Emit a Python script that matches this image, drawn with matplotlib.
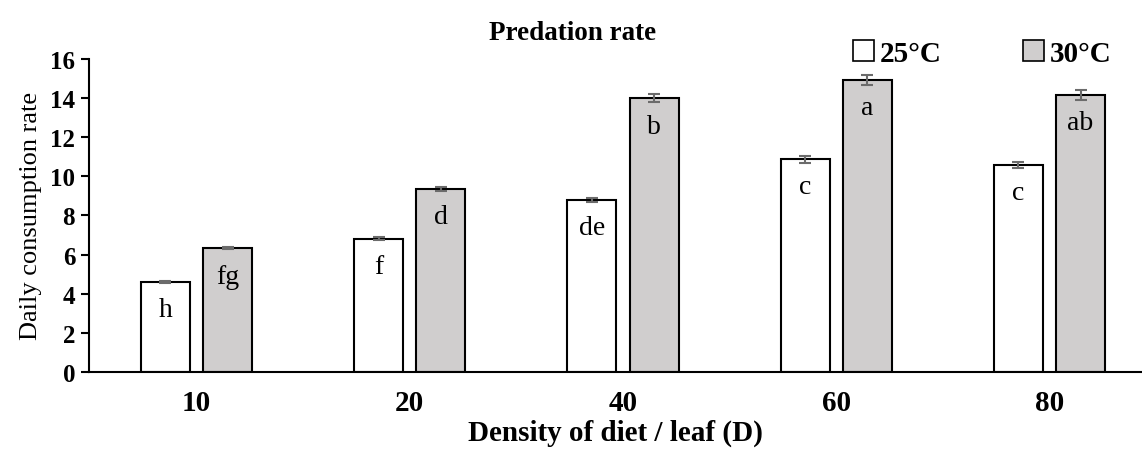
import numpy as np
import matplotlib.pyplot as plt
from matplotlib.patches import Patch

plt.rcParams['font.family'] = ['Liberation Serif', 'DejaVu Serif']

densities = ['10', '20', '40', '60', '80']
rate_25 = [4.62, 6.82, 8.78, 10.88, 10.58]
err_25 = [0.05, 0.06, 0.10, 0.18, 0.15]
rate_30 = [6.32, 9.35, 13.98, 14.92, 14.15]
err_30 = [0.05, 0.08, 0.20, 0.26, 0.24]
letters_25 = ['h', 'f', 'de', 'c', 'c']
letters_30 = ['fg', 'd', 'b', 'a', 'ab']

x = np.arange(len(densities))
w = 0.23
off = 0.146

fig = plt.figure(figsize=(11.42, 4.6), dpi=100)
ax = fig.add_axes([0.078, 0.189, 0.922, 0.681])

ax.bar(x - off, rate_25, w, color='white', edgecolor='black', linewidth=1.5, zorder=2)
ax.bar(x + off, rate_30, w, color='#d0cece', edgecolor='black', linewidth=1.5, zorder=2)
ax.errorbar(x - off, rate_25, yerr=err_25, fmt='none', ecolor='#6b6b6b',
            elinewidth=1.5, capsize=4.5, capthick=1.5, zorder=3)
ax.errorbar(x + off, rate_30, yerr=err_30, fmt='none', ecolor='#6b6b6b',
            elinewidth=1.5, capsize=4.5, capthick=1.5, zorder=3)

# letras de significancia dentro de las barras
for i in range(len(x)):
    ax.annotate(letters_25[i], (x[i] - off, rate_25[i]), xytext=(0, -11),
                textcoords='offset points', ha='center', va='top', fontsize=20)
    ax.annotate(letters_30[i], (x[i] + off, rate_30[i]), xytext=(0, -11),
                textcoords='offset points', ha='center', va='top', fontsize=20)

ax.set_xlim(-0.504, 4.434)
ax.set_ylim(0, 16)
ax.set_yticks(range(0, 17, 2))
ax.set_xticks(x)
ax.set_xticklabels(densities)
for lab in ax.get_yticklabels():
    lab.set_fontweight('bold')
    lab.set_fontsize(18)
for lab in ax.get_xticklabels():
    lab.set_fontweight('bold')
    lab.set_fontsize(21)
ax.tick_params(axis='x', length=0, pad=12)
ax.tick_params(axis='y', length=6, width=1.5, pad=4)
for s in ['top', 'right']:
    ax.spines[s].set_visible(False)
ax.spines['left'].set_linewidth(1.5)
ax.spines['bottom'].set_linewidth(1.5)

ax.set_xlabel('Density of diet / leaf (D)', fontsize=21, fontweight='bold', labelpad=2)
ax.set_ylabel('Daily consumption rate', fontsize=19, labelpad=6)
fig.text(0.501, 0.928, 'Predation rate', ha='center', va='center',
         fontsize=19.5, fontweight='bold')

handles = [Patch(facecolor='white', edgecolor='black', linewidth=1.2),
           Patch(facecolor='#d0cece', edgecolor='black', linewidth=1.2)]
fig.legend(handles, ['25°C', '30°C'], loc='center right', bbox_to_anchor=(0.973, 0.882),
           ncol=2, frameon=False, handlelength=0.7, handleheight=0.7,
           handletextpad=0.2, columnspacing=2.8, borderpad=0, borderaxespad=0,
           prop={'size': 21, 'weight': 'bold'})

fig.savefig('out.png', dpi=100)
